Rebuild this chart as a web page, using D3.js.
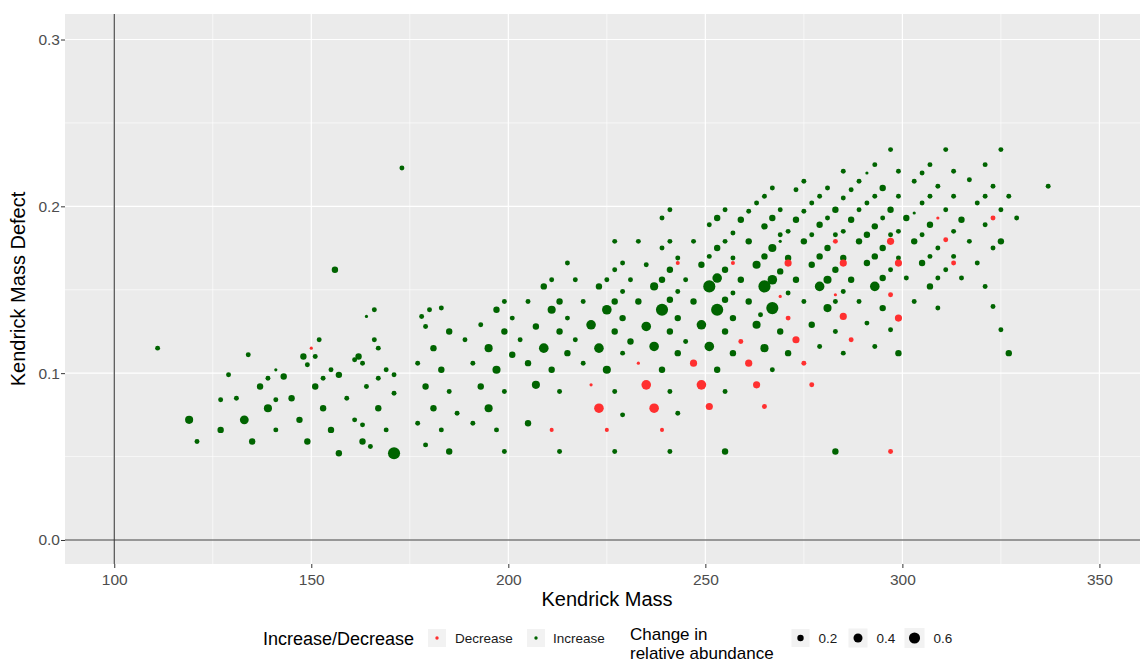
<!DOCTYPE html>
<html>
<head>
<meta charset="utf-8">
<script src="https://cdn.jsdelivr.net/npm/d3@7"></script>
<style>
  body { margin: 0; background: #fff; }
  svg { display: block; font-family: "Liberation Sans", Arial, sans-serif; }
</style>
</head>
<body>
<svg id="chart" width="1140" height="663"></svg>
<script>
// axis ticks + legend breaks
var xTicks = [100, 150, 200, 250, 300, 350];
var xMinor = [125, 175, 225, 275, 325];
var yTicks = [0, 0.1, 0.2, 0.3];
var yMinor = [0.05, 0.15, 0.25];
var sizeBreaks = [0.2, 0.4, 0.6];
var groupNames = ["Decrease", "Increase"];

// [kendrick mass, kendrick mass defect, change in relative abundance]
var increasePoints = [
  [173,0.223,0.12],[156,0.162,0.2],[166,0.138,0.12],[164,0.134,0.05],[178,0.134,0.12],[180,0.138,0.12],[179,0.128,0.12],[152,0.120,0.12],[148,0.110,0.2],[151,0.110,0.12],
  [149,0.105,0.12],[111,0.115,0.12],[134,0.111,0.12],[129,0.099,0.12],[141,0.102,0.05],[139,0.097,0.12],[143,0.098,0.2],[137,0.092,0.2],[127,0.084,0.12],[131,0.085,0.12],
  [141,0.084,0.12],[145,0.085,0.2],[139,0.079,0.32],[119,0.072,0.32],[133,0.072,0.38],[147,0.072,0.2],[121,0.059,0.12],[127,0.066,0.2],[135,0.059,0.2],[141,0.066,0.12],
  [149,0.059,0.2],[155,0.066,0.2],[151,0.092,0.2],[153,0.097,0.12],[155,0.102,0.12],[157,0.099,0.2],[153,0.079,0.2],[159,0.085,0.12],[157,0.052,0.2],[161,0.072,0.12],
  [163,0.069,0.12],[163,0.059,0.2],[165,0.056,0.12],[171,0.052,0.72],[169,0.066,0.12],[167,0.079,0.2],[164,0.092,0.12],[167,0.097,0.12],[169,0.102,0.12],[171,0.099,0.12],
  [171,0.088,0.12],[161,0.108,0.12],[162,0.110,0.2],[163,0.106,0.12],[166,0.120,0.12],[167,0.115,0.12],[177,0.106,0.12],[179,0.092,0.2],[177,0.070,0.12],[179,0.057,0.12],
  [241,0.198,0.12],[239,0.193,0.12],[227,0.179,0.12],[233,0.179,0.12],[239,0.175,0.12],[241,0.179,0.12],[215,0.166,0.12],[229,0.166,0.12],[235,0.165,0.12],[227,0.162,0.12],
  [241,0.162,0.2],[239,0.156,0.2],[237,0.152,0.32],[225,0.156,0.12],[231,0.156,0.12],[223,0.152,0.2],[229,0.149,0.12],[211,0.156,0.12],[217,0.156,0.12],[209,0.152,0.2],
  [199,0.143,0.12],[205,0.143,0.12],[213,0.143,0.2],[219,0.143,0.12],[227,0.143,0.2],[233,0.143,0.2],[241,0.144,0.2],[197,0.138,0.2],[211,0.138,0.32],[225,0.138,0.45],
  [239,0.138,0.72],[183,0.139,0.12],[201,0.133,0.12],[215,0.133,0.12],[229,0.133,0.2],[185,0.125,0.2],[193,0.129,0.12],[199,0.125,0.2],[207,0.128,0.2],[213,0.125,0.2],
  [221,0.129,0.45],[227,0.125,0.2],[235,0.128,0.45],[241,0.125,0.2],[189,0.120,0.12],[203,0.120,0.12],[217,0.120,0.12],[231,0.119,0.2],[181,0.115,0.2],[195,0.115,0.32],
  [209,0.115,0.45],[223,0.115,0.45],[237,0.116,0.45],[201,0.111,0.2],[215,0.112,0.2],[229,0.112,0.12],[191,0.106,0.12],[205,0.106,0.2],[219,0.106,0.12],[183,0.102,0.2],
  [197,0.102,0.32],[211,0.102,0.2],[225,0.102,0.32],[239,0.102,0.2],[193,0.092,0.2],[207,0.093,0.32],[185,0.089,0.12],[199,0.089,0.12],[213,0.089,0.12],[227,0.089,0.12],
  [241,0.089,0.12],[181,0.079,0.2],[195,0.079,0.32],[187,0.076,0.12],[229,0.075,0.12],[191,0.070,0.12],[205,0.070,0.2],[183,0.066,0.12],[197,0.066,0.12],[185,0.053,0.2],
  [199,0.053,0.12],[213,0.053,0.12],[227,0.053,0.12],[241,0.053,0.12],
  [285,0.221,0.12],[275,0.215,0.12],[267,0.211,0.12],[273,0.210,0.12],[281,0.211,0.12],[289,0.215,0.12],[287,0.210,0.12],[265,0.206,0.12],[279,0.206,0.12],[285,0.205,0.12],
  [263,0.202,0.12],[277,0.202,0.12],[269,0.198,0.12],[275,0.197,0.12],[283,0.198,0.2],[289,0.198,0.12],[255,0.198,0.12],[261,0.197,0.12],[253,0.193,0.2],[259,0.192,0.2],
  [267,0.193,0.2],[273,0.192,0.2],[281,0.193,0.12],[287,0.192,0.2],[251,0.189,0.12],[265,0.188,0.2],[279,0.189,0.2],[257,0.184,0.12],[271,0.185,0.12],[269,0.183,0.12],
  [277,0.183,0.12],[285,0.185,0.12],[283,0.183,0.12],[247,0.179,0.12],[255,0.179,0.12],[261,0.179,0.2],[269,0.179,0.05],[275,0.179,0.2],[289,0.179,0.2],[253,0.175,0.2],
  [267,0.175,0.32],[281,0.175,0.2],[251,0.170,0.12],[243,0.169,0.12],[257,0.169,0.12],[265,0.170,0.2],[271,0.169,0.2],[279,0.170,0.2],[285,0.169,0.2],[249,0.165,0.2],
  [263,0.165,0.32],[277,0.165,0.2],[255,0.162,0.2],[269,0.161,0.2],[283,0.162,0.2],[245,0.156,0.12],[253,0.157,0.45],[259,0.156,0.2],[267,0.156,0.45],[273,0.156,0.2],
  [281,0.156,0.32],[287,0.156,0.2],[251,0.152,0.72],[265,0.152,0.72],[279,0.152,0.45],[243,0.149,0.12],[257,0.148,0.12],[271,0.148,0.12],[285,0.149,0.12],[255,0.144,0.2],
  [247,0.143,0.2],[261,0.143,0.2],[275,0.143,0.12],[289,0.143,0.12],[253,0.138,0.72],[267,0.139,0.72],[281,0.139,0.32],[283,0.143,0.12],[243,0.133,0.2],[257,0.133,0.2],
  [264,0.135,0.12],[249,0.129,0.45],[263,0.129,0.32],[277,0.129,0.2],[255,0.125,0.2],[269,0.125,0.2],[283,0.125,0.12],[245,0.119,0.12],[251,0.116,0.45],[265,0.115,0.32],
  [279,0.116,0.12],[243,0.112,0.2],[257,0.112,0.2],[271,0.112,0.2],[285,0.112,0.12],[253,0.102,0.2],[267,0.102,0.12],[255,0.089,0.12],[243,0.076,0.12],[255,0.053,0.2],
  [283,0.053,0.2],
  [297,0.234,0.12],[311,0.234,0.12],[325,0.234,0.12],[293,0.225,0.12],[307,0.225,0.12],[321,0.225,0.12],[291,0.220,0.05],[299,0.221,0.12],[305,0.220,0.12],[313,0.221,0.12],
  [317,0.216,0.12],[303,0.215,0.12],[337,0.212,0.12],[295,0.211,0.2],[309,0.212,0.12],[323,0.212,0.12],[293,0.206,0.12],[299,0.206,0.12],[307,0.206,0.12],[313,0.206,0.12],
  [321,0.206,0.12],[327,0.206,0.12],[291,0.202,0.12],[305,0.202,0.12],[319,0.202,0.12],[297,0.198,0.2],[311,0.198,0.12],[325,0.198,0.12],[303,0.196,0.05],[295,0.193,0.12],
  [301,0.193,0.2],[315,0.192,0.2],[329,0.193,0.12],[293,0.188,0.2],[307,0.189,0.2],[321,0.189,0.12],[291,0.183,0.2],[299,0.185,0.12],[305,0.183,0.12],[313,0.185,0.12],
  [297,0.183,0.12],[303,0.179,0.2],[317,0.179,0.12],[325,0.179,0.2],[295,0.175,0.2],[309,0.175,0.12],[323,0.175,0.12],[293,0.170,0.2],[299,0.169,0.12],[307,0.170,0.12],
  [313,0.170,0.12],[291,0.166,0.2],[305,0.166,0.2],[319,0.166,0.12],[297,0.162,0.12],[311,0.162,0.12],[295,0.157,0.2],[301,0.157,0.12],[309,0.157,0.12],[315,0.157,0.12],
  [293,0.152,0.45],[307,0.152,0.2],[321,0.152,0.12],[303,0.143,0.12],[295,0.139,0.2],[309,0.139,0.12],[323,0.140,0.12],[291,0.130,0.12],[297,0.126,0.12],[325,0.126,0.12],
  [293,0.116,0.12],[299,0.112,0.2],[327,0.112,0.2]
];

var decreasePoints = [
  [150,0.115,0.05],[233,0.106,0.05],[221,0.093,0.05],[235,0.093,0.45],[223,0.079,0.45],[237,0.079,0.45],[211,0.066,0.08],[225,0.066,0.08],[239,0.066,0.08],[283,0.179,0.12],
  [243,0.166,0.08],[257,0.166,0.08],[271,0.166,0.25],[285,0.166,0.25],[269,0.146,0.05],[283,0.147,0.05],[271,0.133,0.12],[285,0.134,0.25],[259,0.119,0.12],[273,0.120,0.25],
  [287,0.120,0.12],[247,0.106,0.25],[261,0.106,0.25],[275,0.106,0.12],[249,0.093,0.45],[263,0.093,0.25],[277,0.093,0.12],[251,0.080,0.25],[265,0.080,0.12],[309,0.193,0.05],
  [323,0.193,0.12],[297,0.179,0.25],[311,0.180,0.12],[299,0.166,0.25],[313,0.166,0.12],[297,0.147,0.12],[299,0.133,0.25],[297,0.053,0.12]
];

var groupColors = { Decrease: "#ff3030", Increase: "#006400" };

var svg = d3.select("#chart");
var panel = { left: 65, top: 14, right: 1140, bottom: 564 };

var x = d3.scaleLinear().domain([87.5, 360.3]).range([panel.left, panel.right]);
var y = d3.scaleLinear().domain([-0.0144, 0.3153]).range([panel.bottom, panel.top]);
var r = d3.scaleSqrt().domain([0, 0.8]).range([0, 6.4]);

/* panel background + grid */
svg.append("rect")
  .attr("x", panel.left).attr("y", panel.top)
  .attr("width", panel.right - panel.left).attr("height", panel.bottom - panel.top)
  .attr("fill", "#ebebeb");

var grid = svg.append("g");
grid.selectAll(".xminor").data(xMinor).enter().append("line")
  .attr("x1", d => x(d)).attr("x2", d => x(d))
  .attr("y1", panel.top).attr("y2", panel.bottom)
  .attr("stroke", "#fff").attr("stroke-width", 0.6);
grid.selectAll(".yminor").data(yMinor).enter().append("line")
  .attr("y1", d => y(d)).attr("y2", d => y(d))
  .attr("x1", panel.left).attr("x2", panel.right)
  .attr("stroke", "#fff").attr("stroke-width", 0.6);
grid.selectAll(".xmajor").data(xTicks).enter().append("line")
  .attr("x1", d => x(d)).attr("x2", d => x(d))
  .attr("y1", panel.top).attr("y2", panel.bottom)
  .attr("stroke", "#fff").attr("stroke-width", 1.2);
grid.selectAll(".ymajor").data(yTicks).enter().append("line")
  .attr("y1", d => y(d)).attr("y2", d => y(d))
  .attr("x1", panel.left).attr("x2", panel.right)
  .attr("stroke", "#fff").attr("stroke-width", 1.2);

// reference lines at x = 100 and y = 0
svg.append("line")
  .attr("x1", x(100)).attr("x2", x(100)).attr("y1", panel.top).attr("y2", panel.bottom)
  .attr("stroke", "#3a3a3a").attr("stroke-width", 1.1);
svg.append("line")
  .attr("x1", panel.left).attr("x2", panel.right).attr("y1", y(0)).attr("y2", y(0))
  .attr("stroke", "#3a3a3a").attr("stroke-width", 1.1);

/* points */
var pts = svg.append("g");
pts.selectAll(".inc").data(increasePoints).enter().append("circle")
  .attr("cx", d => x(d[0])).attr("cy", d => y(d[1])).attr("r", d => r(d[2]))
  .attr("fill", groupColors.Increase);
pts.selectAll(".dec").data(decreasePoints).enter().append("circle")
  .attr("cx", d => x(d[0])).attr("cy", d => y(d[1])).attr("r", d => r(d[2]))
  .attr("fill", groupColors.Decrease);

/* axes */
var xAxis = svg.append("g").attr("transform", "translate(0," + panel.bottom + ")")
  .call(d3.axisBottom(x).tickValues(xTicks).tickSize(4).tickPadding(5.5).tickFormat(d3.format("d")));
var yAxis = svg.append("g").attr("transform", "translate(" + panel.left + ",0)")
  .call(d3.axisLeft(y).tickValues(yTicks).tickSize(4).tickPadding(1).tickFormat(d3.format(".1f")));
[xAxis, yAxis].forEach(function(a) {
  a.select(".domain").remove();
  a.selectAll(".tick line").attr("stroke", "#333");
  a.selectAll(".tick text").attr("fill", "#4d4d4d")
    .style("font-size", "15.5px").style("font-family", "'Liberation Sans', Arial, sans-serif");
});

svg.append("text").attr("x", 607).attr("y", 606).attr("text-anchor", "middle")
  .style("font-size", "20px").text("Kendrick Mass");
svg.append("text").attr("transform", "translate(25,289) rotate(-90)").attr("text-anchor", "middle")
  .style("font-size", "20px").text("Kendrick Mass Defect");

/* legend: colour */
var leg = svg.append("g");
leg.append("text").attr("x", 263).attr("y", 645).style("font-size", "18px").text("Increase/Decrease");
var colKeys = [{ name: groupNames[0], kx: 428, tx: 455 }, { name: groupNames[1], kx: 527, tx: 553 }];
colKeys.forEach(function(k) {
  leg.append("rect").attr("x", k.kx).attr("y", 629).attr("width", 18).attr("height", 18).attr("fill", "#f2f2f2");
  leg.append("circle").attr("cx", k.kx + 9).attr("cy", 638).attr("r", 1.7).attr("fill", groupColors[k.name]);
  leg.append("text").attr("x", k.tx).attr("y", 643).style("font-size", "13.5px").attr("fill", "#1a1a1a").text(k.name);
});

/* legend: size */
leg.append("text").attr("x", 630).attr("y", 640).style("font-size", "17px").text("Change in");
leg.append("text").attr("x", 630).attr("y", 659).style("font-size", "17px").text("relative abundance");
var sizeKeyX = [800.5, 858, 914.5], sizeKeyW = [18, 19, 20];
sizeBreaks.forEach(function(b, i) {
  var cx = sizeKeyX[i], w = sizeKeyW[i];
  leg.append("rect").attr("x", cx - w / 2).attr("y", 638 - w / 2).attr("width", w).attr("height", w).attr("fill", "#f2f2f2");
  leg.append("circle").attr("cx", cx).attr("cy", 638).attr("r", r(b)).attr("fill", "#000");
  leg.append("text").attr("x", cx + w / 2 + 9).attr("y", 643).style("font-size", "13.5px").attr("fill", "#1a1a1a").text(b.toFixed(1));
});
</script>
</body>
</html>
